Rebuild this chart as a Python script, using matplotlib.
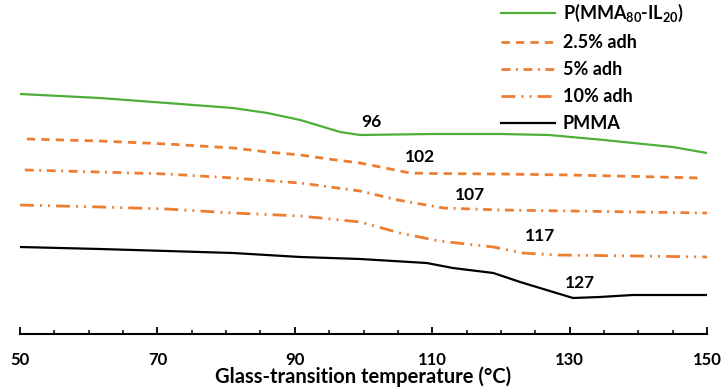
import matplotlib.pyplot as plt

plt.rcParams['font.family'] = ['Lato', 'DejaVu Sans']
plt.rcParams['font.weight'] = 'bold'
plt.rcParams['mathtext.fontset'] = 'custom'
plt.rcParams['mathtext.rm'] = 'Lato:bold'
plt.rcParams['mathtext.default'] = 'rm'

# DSC traces (heat flow, arbitrary units)
t_il = [50, 61.6, 71.4, 81, 86, 90.8, 96.6, 99.5, 110, 120, 127, 135, 145, 150]
hf_il = [23.7, 23.3, 22.8, 22.3, 21.8, 21.1, 19.9, 19.6, 19.7, 19.7, 19.6, 19.1, 18.4, 17.8]

t_25 = [51, 61.6, 71.4, 81, 86, 90.8, 96, 99.5, 106.8, 110, 120, 130, 140, 149]
hf_25 = [19.2, 19.0, 18.7, 18.3, 17.9, 17.6, 17.1, 16.8, 15.8, 15.75, 15.7, 15.6, 15.45, 15.3]

t_5 = [50.7, 61.6, 71.4, 81, 90.8, 99.5, 105, 111.6, 120, 130, 140, 150]
hf_5 = [16.1, 15.9, 15.7, 15.3, 14.8, 14.0, 13.1, 12.3, 12.1, 12.0, 11.9, 11.8]

t_10 = [50, 61.6, 71.4, 81, 90.8, 99.5, 105.3, 111, 118.9, 123.2, 128, 140, 150]
hf_10 = [12.6, 12.4, 12.2, 11.8, 11.5, 10.9, 9.8, 9.0, 8.4, 7.8, 7.6, 7.5, 7.4]

t_pmma = [50, 61.6, 71.4, 81, 90.8, 99.5, 109.2, 113, 118.9, 122.8, 127.6, 130.5, 134.4, 139.2, 150]
hf_pmma = [8.4, 8.2, 8.0, 7.8, 7.4, 7.2, 6.8, 6.3, 5.8, 4.9, 3.9, 3.3, 3.4, 3.6, 3.6]

tg_labels = ['96', '102', '107', '117', '127']
tg_x = [101.2, 108.2, 115.5, 125.7, 131.5]
tg_y = [20.9, 17.4, 13.6, 9.5, 4.8]

green = '#4DAF3A'
orange = '#ED7D31'

fig = plt.figure(figsize=(7.21, 3.88), dpi=100)
ax = fig.add_axes([20 / 721, 54 / 388, 687 / 721, 334 / 388])

ax.plot(t_il, hf_il, color=green, lw=1.6, label='P(MMA$_{80}$-IL$_{20}$)')
ax.plot(t_25, hf_25, color=orange, lw=2, linestyle=(0, (3, 2.2)), label='2.5% adh')
ax.plot(t_5, hf_5, color=orange, lw=2, linestyle=(0, (3.2, 2, 0.7, 2)), label='5% adh')
ax.plot(t_10, hf_10, color=orange, lw=2, linestyle=(0, (5, 2.2, 0.7, 2.2, 0.7, 2.2)), label='10% adh')
ax.plot(t_pmma, hf_pmma, color='black', lw=1.6, label='PMMA')

for s, x, y in zip(tg_labels, tg_x, tg_y):
    ax.text(x, y, s, ha='center', va='center', fontsize=12.5, fontweight='bold')

ax.set_xlim(50, 150)
ax.set_ylim(-0.3, 33.1)
ax.set_xticks(range(50, 151, 20))
ax.set_xticks(range(50, 151, 5), minor=True)
ax.tick_params(axis='x', which='major', direction='in', length=5, width=1.3, pad=13, labelsize=12)
ax.tick_params(axis='x', which='minor', direction='in', length=3, width=1.1)
ax.set_yticks([])
for side in ['top', 'right', 'left']:
    ax.spines[side].set_visible(False)
ax.spines['bottom'].set_linewidth(1.5)
ax.set_xlabel('Glass-transition temperature (°C)', fontsize=14.5, fontweight='bold', labelpad=-1)

ax.legend(loc='upper left', bbox_to_anchor=(0.69, 1.015), frameon=False, fontsize=13,
          handlelength=2.95, handletextpad=0.45, labelspacing=0.55, borderaxespad=0)

fig.savefig('out.png', dpi=100)
